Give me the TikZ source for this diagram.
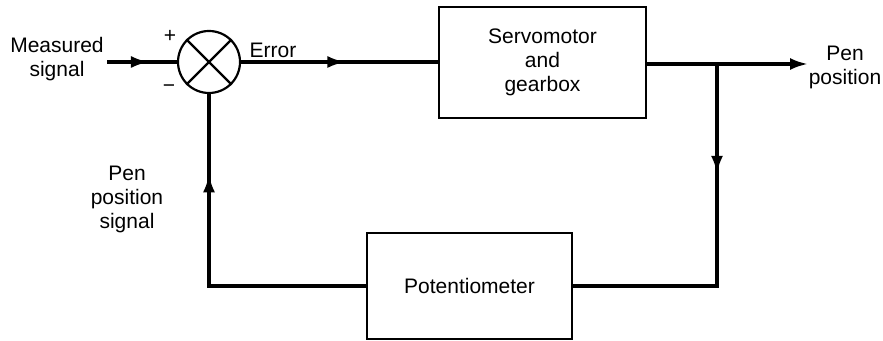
\documentclass[tikz,border=0pt]{standalone}
\usepackage{fontspec}
\setmainfont{Liberation Sans}
\usetikzlibrary{arrows.meta,decorations.markings}
\tikzset{
  blk/.style={draw, line width=1.1pt, rectangle, inner sep=0pt, align=center},
  conn/.style={line width=1.6pt},
  lbl/.style={align=center, inner sep=0pt, font=\fontsize{10.5}{12}\selectfont},
  tipstyle/.style={-{Latex[length=9pt,width=6pt]}},
  midarrow/.style={postaction={decorate}, decoration={markings,
     mark=at position #1 with {\arrow{Latex[length=9pt,width=6pt]}}}}
}
\begin{document}
\begin{tikzpicture}[x=0.5pt,y=-0.5pt]
\useasboundingbox (0,0) rectangle (883,341);
% blocks
\node[circle, draw, line width=1.1pt, minimum size=31pt, inner sep=0pt] (sum) at (209,62) {};
\draw[line width=1.1pt] (sum.north west) -- (sum.south east);
\draw[line width=1.1pt] (sum.north east) -- (sum.south west);
\node[blk, lbl, minimum width=103.5pt, minimum height=55.5pt] (servo) at (542.5,62.5) {Servomotor\\and\\gearbox};
\node[blk, lbl, minimum width=102.5pt, minimum height=53pt] (pot) at (469.5,286) {Potentiometer};
% labels
\node[lbl] (meas) at (57,59) {Measured\\signal};
\node[lbl] (plus) at (170,36) {+};
\node[lbl] (minus) at (169,89) {−};
\node[lbl] (err) at (273,50) {Error};
\node[lbl] (penpos) at (845,67) {Pen\\position};
\node[lbl] (pps) at (127,199) {Pen\\position\\signal};
% coordinates
\coordinate (in) at (107,62);
\coordinate (out) at (808,64);
\coordinate (br) at (717,64);
\coordinate (fbc) at (209,286);
% connectors
\draw[conn, midarrow=0.6] (in) -- (sum.west);
\draw[conn, midarrow=0.53] (sum.east) -- (sum.east -| servo.west);
\draw[conn, tipstyle] (servo.east |- out) -- (out);
\draw[conn, midarrow=0.3] (br) -- (br |- pot.east) -- (pot.east);
\draw[conn, midarrow=0.77] (pot.west) -- (fbc) -- (sum.south);
\end{tikzpicture}
\end{document}
